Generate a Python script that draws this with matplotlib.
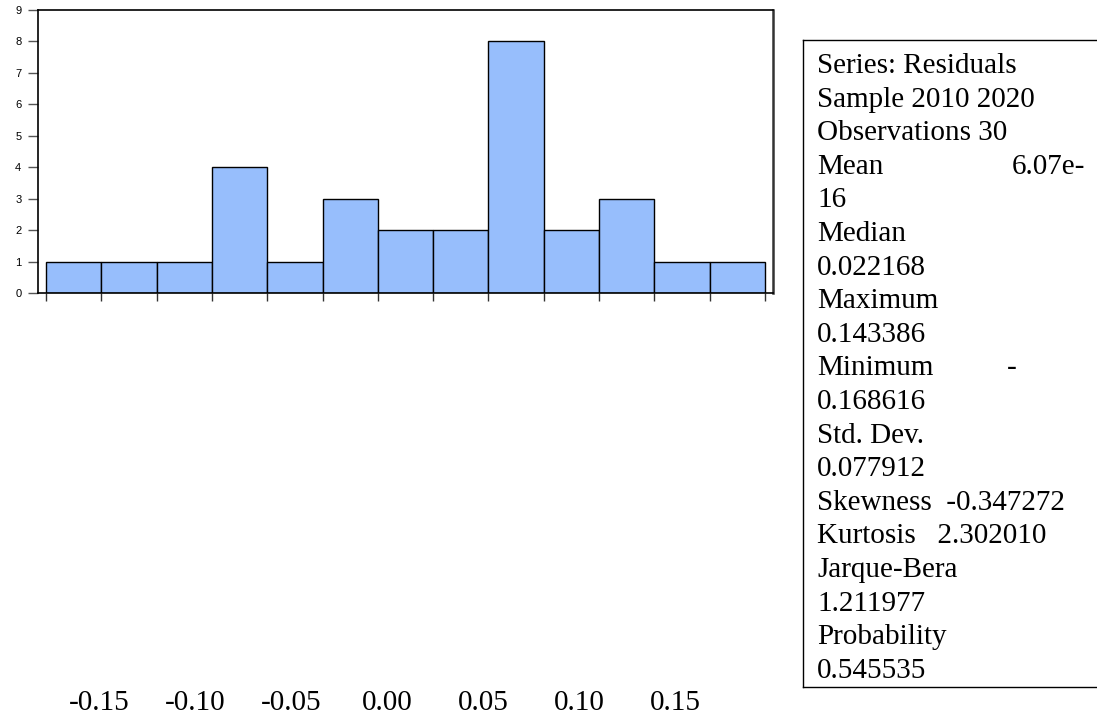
import matplotlib
matplotlib.use('Agg')
import matplotlib.pyplot as plt
import numpy as np

# histogram of residuals
counts = [1, 1, 1, 4, 1, 3, 2, 2, 8, 2, 3, 1, 1]
res_min = -0.168616
res_max = 0.143386
x_labels = [-0.15, -0.10, -0.05, 0.00, 0.05, 0.10, 0.15]
y_ticks = list(range(0, 10))

stats_lines = [
    ('Series: Residuals', ''),
    ('Sample 2010 2020', ''),
    ('Observations 30', ''),
    ('Mean', '6.07e-'),
    ('16', ''),
    ('Median', ''),
    ('0.022168', ''),
    ('Maximum', ''),
    ('0.143386', ''),
    ('Minimum', '-'),
    ('0.168616', ''),
    ('Std. Dev.', ''),
    ('0.077912', ''),
    ('Skewness  -0.347272', ''),
    ('Kurtosis   2.302010', ''),
    ('Jarque-Bera', ''),
    ('1.211977', ''),
    ('Probability', ''),
    ('0.545535', ''),
]

W, H = 1097, 721
fig = plt.figure(figsize=(W / 100, H / 100), dpi=100)

edges = np.linspace(res_min, res_max, len(counts) + 1)
width = edges[1] - edges[0]
pad = (res_max - res_min) * 8 / 719

ax = fig.add_axes([38 / W, 1 - 293 / H, (773 - 38) / W, (293 - 10) / H])
ax.bar(edges[:-1], counts, width=width, align='edge', color='#97BEFC',
       edgecolor='black', linewidth=1)
ax.set_xlim(res_min - pad, res_max + pad)
ax.set_ylim(0, 9)
ax.set_yticks(y_ticks)
ax.set_yticklabels([str(v) for v in y_ticks], fontsize=8, family='Liberation Sans')
ax.set_xticks(edges)
ax.set_xticklabels([])
ax.tick_params(axis='y', length=7, width=1, color='#555555', pad=5)
ax.tick_params(axis='x', length=6, width=1, color='#333333', direction='out')
for s in ax.spines.values():
    s.set_linewidth(1.2)
ax.spines['right'].set_linewidth(1.8)
ax.spines['right'].set_color('#333333')

# x labels drawn on a separate bare axis below
lab = fig.add_axes([99 / W, 1 - 690 / H, (675 - 99) / W, 0.001])
lab.set_xlim(-0.15, 0.15)
lab.set_xticks(x_labels)
lab.set_xticklabels(['%.2f' % v for v in x_labels], fontsize=21, family='Liberation Serif')
lab.tick_params(axis='x', length=0, pad=0)
lab.set_yticks([])
for s in lab.spines.values():
    s.set_visible(False)
lab.patch.set_visible(False)

# statistics box
box = fig.add_axes([803 / W, 1 - 687 / H, (W - 803) / W + 0.01, (687 - 40) / H])
box.set_xticks([])
box.set_yticks([])
box.set_xlim(803, W + 11)
box.set_ylim(687, 40)
box.spines['right'].set_visible(False)
for s in box.spines.values():
    s.set_linewidth(1)
y = 73
for left, right in stats_lines:
    box.text(817, y, left, fontsize=21, family='Liberation Serif', va='baseline', ha='left')
    if right == '-':
        box.text(1012, y, right, fontsize=21, family='Liberation Serif', va='baseline', ha='center')
    elif right:
        box.text(1085, y, right, fontsize=21, family='Liberation Serif', va='baseline', ha='right')
    y += 33.6

fig.savefig('out.png', dpi=100)
